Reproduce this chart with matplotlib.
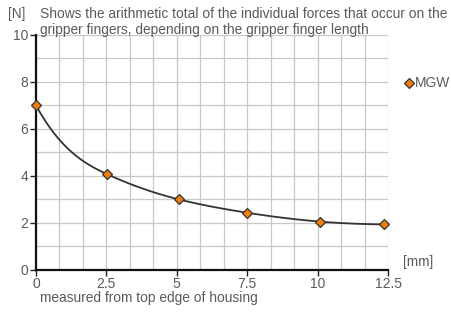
import numpy as np
import matplotlib
matplotlib.use("Agg")
import matplotlib.pyplot as plt
from matplotlib.ticker import MultipleLocator

# Data
finger_length_mm = [0.0, 2.53, 5.07, 7.5, 10.1, 12.37]
force_N = [7.0, 4.06, 2.99, 2.42, 2.04, 1.92]
# curve slope at each point
force_slope = [-2.2, -0.55, -0.3, -0.19, -0.1, -0.02]
series_name = "MGW"
x_ticks = [0, 2.5, 5, 7.5, 10, 12.5]
x_tick_labels = ["0", "2.5", "5", "7.5", "10", "12.5"]
y_ticks = [0, 2, 4, 6, 8, 10]

plt.rcParams['font.family'] = ['Liberation Sans', 'DejaVu Sans']

def hermite(x, y, d, n_per=80):
    xs_all, ys_all = [], []
    for i in range(len(x) - 1):
        h = x[i + 1] - x[i]
        t = np.linspace(0, 1, n_per)
        h00 = 2 * t**3 - 3 * t**2 + 1
        h10 = t**3 - 2 * t**2 + t
        h01 = -2 * t**3 + 3 * t**2
        h11 = t**3 - t**2
        xs_all.append(x[i] + t * h)
        ys_all.append(h00 * y[i] + h10 * h * d[i] + h01 * y[i + 1] + h11 * h * d[i + 1])
    return np.concatenate(xs_all), np.concatenate(ys_all)

fig = plt.figure(figsize=(4.51, 3.12), dpi=100)
ax = fig.add_axes([36 / 451, 1 - 269.5 / 312, 352 / 451, 234.5 / 312])
ax.set_xlim(0, 12.5)
ax.set_ylim(0, 10)

ax.xaxis.set_minor_locator(MultipleLocator(12.5 / 15))
ax.yaxis.set_minor_locator(MultipleLocator(1))
ax.grid(which='minor', color='#c8c8c8', linewidth=0.9)
ax.grid(which='major', color='#c8c8c8', linewidth=0.9)
ax.set_axisbelow(True)
ax.tick_params(which='minor', length=0)
ax.set_xticks(x_ticks)
ax.set_xticklabels(x_tick_labels)
ax.set_yticks(y_ticks)
ax.tick_params(which='major', direction='out', length=4, width=1.0, color='#222222',
               labelsize=10, labelcolor='#5a5a5a', pad=1.5)
for s in ['top', 'right']:
    ax.spines[s].set_visible(False)
for s in ['left', 'bottom']:
    ax.spines[s].set_linewidth(1.6)
    ax.spines[s].set_color('#111111')

cx, cy = hermite(finger_length_mm, force_N, force_slope)
ax.plot(cx, cy, color='#333333', lw=1.3, zorder=3, clip_on=False)
ax.plot(finger_length_mm, force_N, linestyle='none', marker='D', markersize=5.5,
        markerfacecolor='#f07d10', markeredgecolor='#333333', markeredgewidth=0.9,
        zorder=4, clip_on=False)

tc = '#5a5a5a'
fs = 9.9
fig.text(8 / 451, 1 - 14 / 312, "[N]", fontsize=fs, color=tc, va='center')
fig.text(40 / 451, 1 - 14 / 312, "Shows the arithmetic total of the individual forces that occur on the",
         fontsize=fs, color=tc, va='center')
fig.text(40 / 451, 1 - 30 / 312, "gripper fingers, depending on the gripper finger length",
         fontsize=fs, color=tc, va='center')
fig.text(403 / 451, 1 - 262 / 312, "[mm]", fontsize=fs, color=tc, va='center')
fig.text(40 / 451, 1 - 298 / 312, "measured from top edge of housing", fontsize=fs, color=tc, va='center')

# legend
fig.lines.append(matplotlib.lines.Line2D([409 / 451], [1 - 83 / 312], transform=fig.transFigure,
                 marker='D', markersize=5.5, markerfacecolor='#f07d10',
                 markeredgecolor='#333333', markeredgewidth=0.9, linestyle='none'))
fig.text(415 / 451, 1 - 83 / 312, series_name, fontsize=fs, color=tc, va='center')

fig.savefig("out.png", dpi=100)
